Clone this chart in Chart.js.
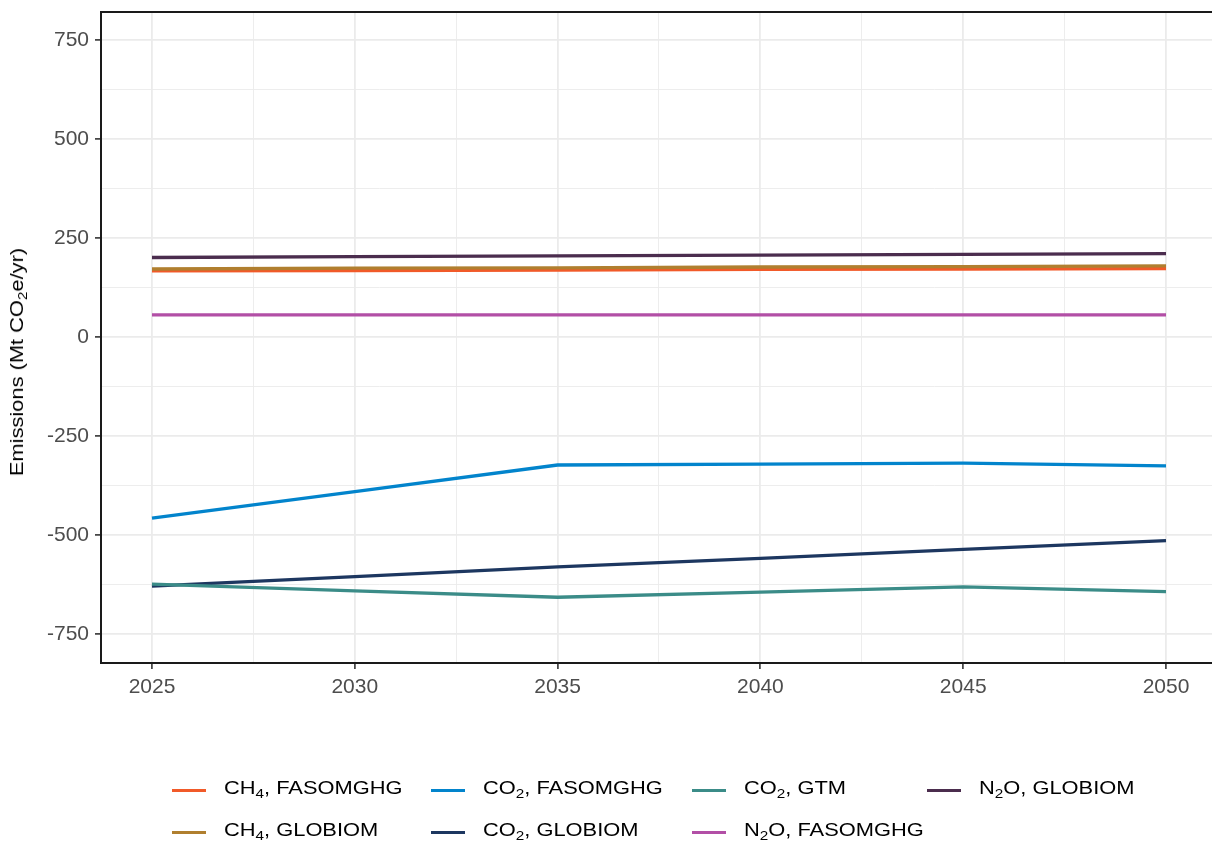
<!DOCTYPE html>
<html>
<head>
<meta charset="utf-8">
<script src="https://cdn.jsdelivr.net/npm/chart.js@4.4.0/dist/chart.umd.min.js"></script>
<style>
    body { margin: 0; background: #ffffff; }
    #wrap { position: relative; width: 1212px; height: 846px; overflow: hidden; background: #ffffff; }
    #chartBox { position: absolute; left: 0; top: 0; width: 1212px; height: 846px; }
    #ytitle {
        position: absolute; left: 17px; top: 362px;
        transform: translate(-50%, -50%) rotate(-90deg) scaleX(1.15);
        font: 19px 'Liberation Sans', Arial, sans-serif; color: #000;
        white-space: nowrap;
    }
    #legend {
        position: absolute; left: 172px; top: 769px;
        display: grid;
        grid-template-columns: 259px 261px 235px auto;
        grid-template-rows: 42px 42px;
        grid-auto-flow: column;
    }
    .item { display: flex; align-items: center; }
    .sw { width: 34px; height: 3px; margin-right: 18px; }
    .txt {
        font: 19px 'Liberation Sans', Arial, sans-serif; color: #000;
        transform: scaleX(1.15); transform-origin: left center;
        white-space: nowrap; position: relative; top: -2px;
    }
    sub { font-size: 0.7em; vertical-align: -0.3em; line-height: 0; }
</style>
</head>
<body>
<div id="wrap">
    <div id="chartBox"><canvas id="emChart"></canvas></div>
    <div id="ytitle">Emissions (Mt CO<sub>2</sub>e/yr)</div>
    <div id="legend"></div>
</div>
<script>
// Data
const years = [2025, 2030, 2035, 2040, 2045, 2050];

const seriesLabels = [
    'CH4, FASOMGHG',
    'CH4, GLOBIOM',
    'CO2, FASOMGHG',
    'CO2, GLOBIOM',
    'CO2, GTM',
    'N2O, FASOMGHG',
    'N2O, GLOBIOM'
];

const ch4Fasomghg = [167, 168, 169, 171, 172, 173];
const ch4Globiom = [172, 174, 175, 177, 178, 180];
const co2Fasomghg = [-457, -390, -323, -321, -318, -325];
const co2Globiom = [-629, -605, -580, -559, -536, -514];
const co2Gtm = [-624, -641, -657, -644, -631, -643];
const n2oFasomghg = [56, 56, 56, 56, 56, 56];
const n2oGlobiom = [201, 203, 205, 207, 209, 211];

const seriesValues = [ch4Fasomghg, ch4Globiom, co2Fasomghg, co2Globiom, co2Gtm, n2oFasomghg, n2oGlobiom];

const seriesColors = ['#f15a29', '#b07f2f', '#0284cc', '#1d3760', '#3b8c88', '#b24fa6', '#4b2d4e'];

const yTicksMajor = 250;
const xTicksMajor = 5;

// Legend (column-major like the original)
const legendEl = document.getElementById('legend');
seriesLabels.forEach((label, i) => {
    const item = document.createElement('div');
    item.className = 'item';
    const html = label.replace(/([A-Z])(\d)/g, '$1<sub>$2</sub>');
    item.innerHTML = `<div class="sw" style="background:${seriesColors[i]}"></div><span class="txt">${html}</span>`;
    legendEl.appendChild(item);
});

// Top panel border
const topBorder = {
    id: 'topBorder',
    afterDatasetsDraw(chart) {
        const { ctx, chartArea: a } = chart;
        ctx.save();
        ctx.strokeStyle = '#1a1a1a';
        ctx.lineWidth = 2;
        ctx.beginPath();
        ctx.moveTo(a.left - 1, a.top);
        ctx.lineTo(a.right, a.top);
        ctx.stroke();
        ctx.restore();
    }
};

const n = seriesLabels.length;
const datasets = seriesLabels.map((label, i) => ({
    label: label,
    data: years.map((yr, j) => ({ x: yr, y: seriesValues[i][j] })),
    borderColor: seriesColors[i],
    backgroundColor: seriesColors[i],
    borderWidth: 3.3,
    pointRadius: 0,
    tension: 0,
    fill: false,
    order: n - i
}));

const tickFont = { family: "'Liberation Sans', Arial, sans-serif", size: 21 };

new Chart(document.getElementById('emChart'), {
    type: 'line',
    data: { datasets: datasets },
    options: {
        responsive: true,
        maintainAspectRatio: false,
        animation: false,
        layout: { padding: { top: 12, right: 0, bottom: 143, left: 0 } },
        plugins: {
            legend: { display: false },
            tooltip: { enabled: false }
        },
        scales: {
            x: {
                type: 'linear',
                min: 2023.743,
                max: 2051.134,
                afterFit: s => {
                    s.height = 40;
                    s.paddingLeft = 0;
                    s.paddingRight = 0;
                },
                ticks: {
                    stepSize: 2.5,
                    includeBounds: false,
                    autoSkip: false,
                    maxRotation: 0,
                    padding: 6,
                    color: '#4d4d4d',
                    font: tickFont,
                    callback: v => (v % xTicksMajor === 0 ? String(v) : '')
                },
                grid: {
                    color: '#ebebeb',
                    lineWidth: c => (c.tick && c.tick.value % xTicksMajor === 0 ? 1.8 : 0.9),
                    tickLength: 6,
                    tickWidth: 1.6,
                    tickColor: c => (c.tick && c.tick.value % xTicksMajor === 0 ? '#333333' : 'rgba(0,0,0,0)')
                },
                border: { display: true, color: '#1a1a1a', width: 2 }
            },
            y: {
                min: -823,
                max: 821,
                afterFit: s => {
                    s.width = 101;
                    s.paddingTop = 0;
                    s.paddingBottom = 0;
                },
                ticks: {
                    stepSize: 125,
                    includeBounds: false,
                    autoSkip: false,
                    padding: 6,
                    color: '#4d4d4d',
                    font: tickFont,
                    callback: v => (v % yTicksMajor === 0 ? String(v) : '')
                },
                grid: {
                    color: '#ebebeb',
                    lineWidth: c => (c.tick && c.tick.value % yTicksMajor === 0 ? 1.8 : 0.9),
                    tickLength: 6,
                    tickWidth: 1.6,
                    tickColor: c => (c.tick && c.tick.value % yTicksMajor === 0 ? '#333333' : 'rgba(0,0,0,0)')
                },
                border: { display: true, color: '#1a1a1a', width: 2 }
            }
        }
    },
    plugins: [topBorder]
});
</script>
</body>
</html>
